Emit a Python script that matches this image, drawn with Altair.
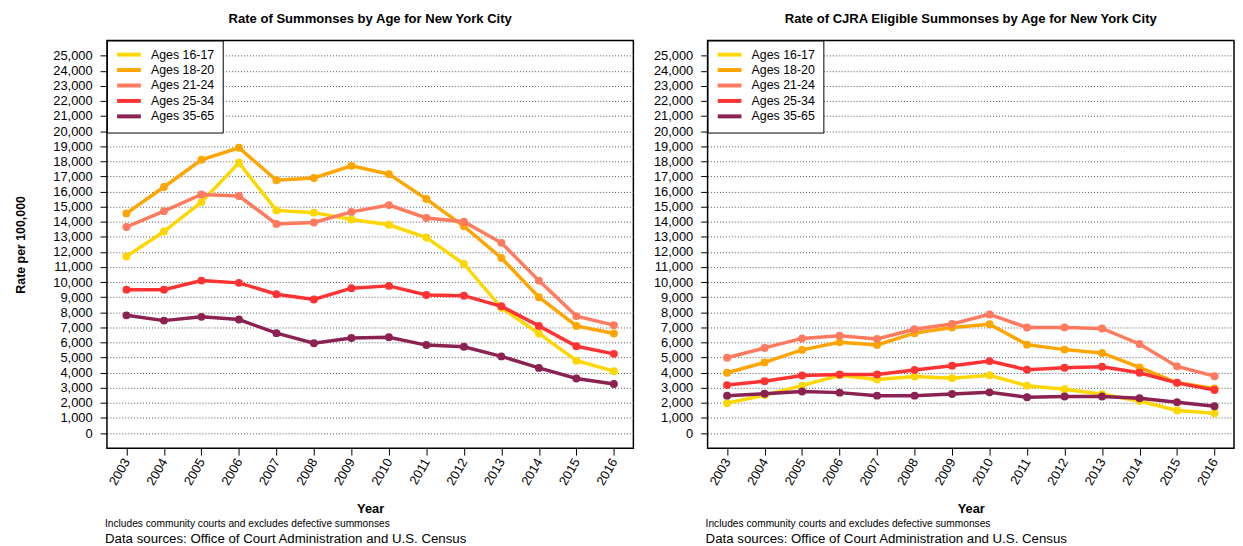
import altair as alt
import pandas as pd

years = list(range(2003, 2017))
series = ["Ages 16-17", "Ages 18-20", "Ages 21-24", "Ages 25-34", "Ages 35-65"]
colors = ["#FFD700", "#FFA500", "#FF7A5E", "#FF3333", "#8B2252"]

# Rate of Summonses by Age
all_16 = [11700, 13350, 15300, 17900, 14750, 14600, 14150, 13800, 12950, 11200, 8300, 6600, 4800, 4100]
all_18 = [14550, 16300, 18100, 18900, 16750, 16900, 17700, 17150, 15500, 13700, 11600, 9000, 7100, 6600]
all_21 = [13650, 14700, 15800, 15700, 13850, 13950, 14650, 15100, 14250, 14000, 12600, 10100, 7750, 7150]
all_25 = [9500, 9500, 10100, 9950, 9200, 8850, 9600, 9750, 9150, 9100, 8400, 7100, 5750, 5250]
all_35 = [7800, 7450, 7700, 7520, 6620, 5950, 6300, 6350, 5830, 5720, 5080, 4320, 3620, 3250]

# Rate of CJRA Eligible Summonses by Age
cjra_16 = [1980, 2520, 3140, 3830, 3550, 3750, 3640, 3830, 3140, 2900, 2570, 2130, 1500, 1310]
cjra_18 = [4000, 4680, 5510, 6010, 5840, 6620, 6990, 7210, 5860, 5530, 5310, 4350, 3330, 2960]
cjra_21 = [4990, 5640, 6270, 6450, 6230, 6880, 7230, 7860, 6990, 7000, 6930, 5900, 4420, 3770]
cjra_25 = [3180, 3440, 3810, 3880, 3880, 4180, 4460, 4770, 4200, 4330, 4400, 4000, 3330, 2850]
cjra_35 = [2480, 2610, 2760, 2680, 2480, 2480, 2590, 2700, 2370, 2420, 2420, 2310, 2050, 1780]

y_ticks = list(range(0, 25001, 1000))
note1 = "Includes community courts and excludes defective summonses"
note2 = "Data sources: Office of Court Administration and U.S. Census"

FONT = "Liberation Sans"
H = 412


def long_df(vals):
    rows = []
    for s, v in zip(series, vals):
        for yr, r in zip(years, v):
            rows.append({"Year": yr, "Rate": r, "Age": s})
    return pd.DataFrame(rows)


def panel(vals, title, W, ytitle):
    df = long_df(vals)
    base = alt.Chart(df)
    xenc = alt.X("Year:Q", scale=alt.Scale(domain=[2002.48, 2016.52], nice=False, zero=False),
                 axis=alt.Axis(values=years, format="d", labelAngle=-60, labelAlign="right",
                               labelBaseline="middle", grid=False, domain=False, tickSize=7,
                               labelPadding=4, title="Year", titleFontWeight="bold",
                               titleFontSize=13, titlePadding=15))
    yenc = alt.Y("Rate:Q", scale=alt.Scale(domain=[-1000, 26000], nice=False, zero=False),
                 axis=alt.Axis(values=y_ticks, format=",d", grid=True, domain=False, tickSize=7,
                               labelPadding=8, gridDash=[1, 2], gridColor="#555555",
                               gridWidth=1, title=ytitle, titleFontWeight="bold",
                               titleFontSize=12.5, titlePadding=26))
    cenc = alt.Color("Age:N", scale=alt.Scale(domain=series, range=colors),
                     legend=alt.Legend(title=None, orient="top-left"))
    layers = []
    for s in series:
        f = base.transform_filter(alt.datum.Age == s)
        layers.append(f.mark_line(strokeWidth=3.5).encode(x=xenc, y=yenc, color=cenc))
        layers.append(f.mark_point(filled=True, size=64, opacity=1).encode(
            x=xenc, y=yenc, color=alt.Color("Age:N", scale=alt.Scale(domain=series, range=colors), legend=None)))
    n1 = alt.Chart(pd.DataFrame({"t": [note1]})).mark_text(
        align="left", baseline="middle", fontSize=10.3, font=FONT, color="black").encode(
        x=alt.value(-2), y=alt.value(H + 77), text="t:N")
    n2 = alt.Chart(pd.DataFrame({"t": [note2]})).mark_text(
        align="left", baseline="middle", fontSize=13.4, font=FONT, color="black").encode(
        x=alt.value(-2), y=alt.value(H + 92), text="t:N")
    layers += [n1, n2]
    return alt.layer(*layers).properties(
        width=W, height=H,
        title=alt.TitleParams(title, fontSize=13.2, fontWeight="bold", font=FONT, anchor="middle",
                              frame="group", offset=14, color="black"))


left = panel([all_16, all_18, all_21, all_25, all_35],
             "Rate of Summonses by Age for New York City", 532, "Rate per 100,000")
right = panel([cjra_16, cjra_18, cjra_21, cjra_25, cjra_35],
              "Rate of CJRA Eligible Summonses by Age for New York City", 532, None)

chart = alt.hconcat(left, right, spacing=18).resolve_scale(color="independent").properties(
    padding={"left": 5, "top": 0, "right": 0, "bottom": 0}, background="white"
).configure_view(
    stroke="black", strokeWidth=1.5, fill="white"
).configure_axis(
    labelFont=FONT, titleFont=FONT, labelFontSize=13, labelColor="black", titleColor="black",
    tickColor="black", tickWidth=1
).configure_legend(
    labelFont=FONT, labelFontSize=12.5, labelColor="black", strokeColor="black",
    fillColor="white", padding=8, symbolType="M-4,0H4", symbolSize=36,
    symbolStrokeWidth=4, labelOffset=16, rowPadding=-1.4, symbolOffset=8, offset=0,
    cornerRadius=0, strokeWidth=1
)

chart.save("out.html", embed_options={"renderer": "svg", "actions": False})
